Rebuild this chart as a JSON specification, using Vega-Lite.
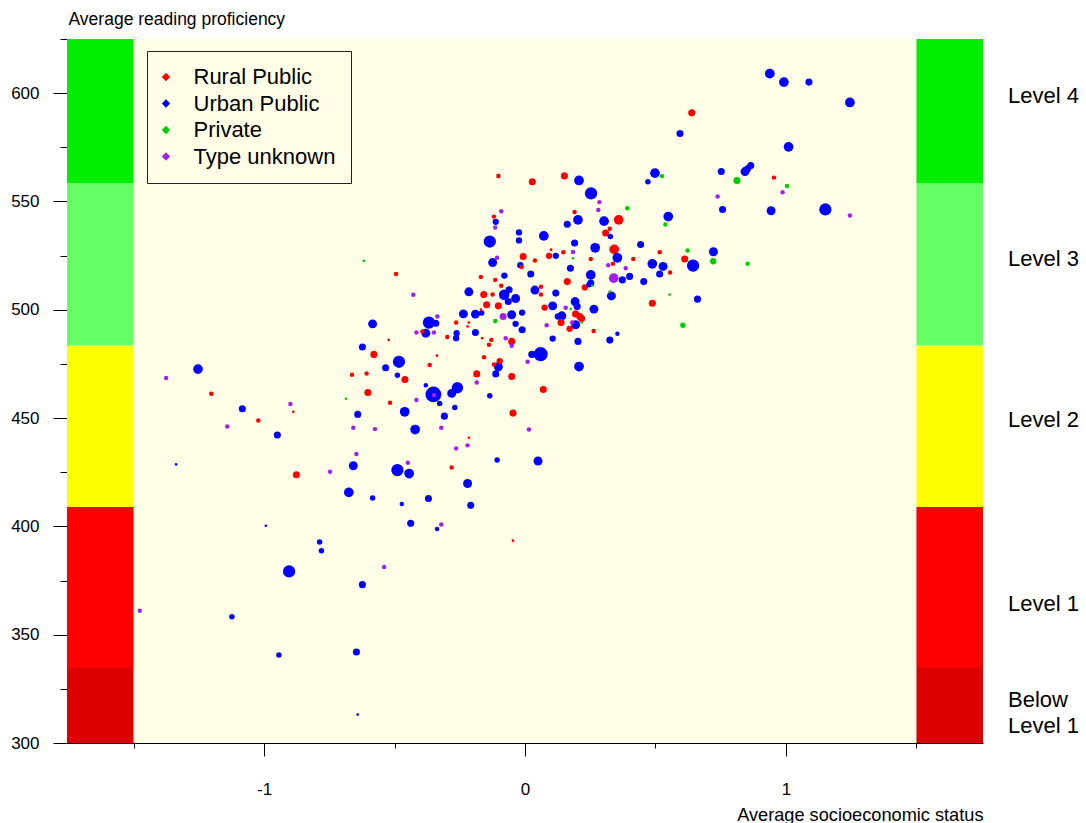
{
"$schema": "https://vega.github.io/schema/vega-lite/v6.json",
"width": 916, "height": 704,
"autosize": {"type": "none"},
"padding": {"left": 67, "top": 39, "right": 103, "bottom": 80},
"background": "#ffffff",
"config": {"view": {"stroke": null}, "font": "Liberation Sans",
  "axis": {"domainColor": "#000", "tickColor": "#000", "labelColor": "#000", "titleColor": "#000", "grid": false, "labelFont": "Liberation Sans", "titleFont": "Liberation Sans", "titleFontWeight": "normal", "domainWidth": 1, "tickWidth": 1}},
"datasets": {
 "bands": [
  {"level": "Below Level 1", "lo": 300, "hi": 334.6},
  {"level": "Level 1", "lo": 334.6, "hi": 408.9},
  {"level": "Level 2", "lo": 408.9, "hi": 483.5},
  {"level": "Level 3", "lo": 483.5, "hi": 558.5},
  {"level": "Level 4", "lo": 558.5, "hi": 625}
 ],
 "levels": [
  {"label": "Level 4", "at": 598.6},
  {"label": "Level 3", "at": 523.5},
  {"label": "Level 2", "at": 449.2},
  {"label": "Level 1", "at": 364},
  {"label": ["Below", "Level 1"], "at": 320}
 ],
 "schools": [
{"ses":-0.102,"score":561.8,"type":"Rural Public","n":20},
{"ses":0.028,"score":559.1,"type":"Rural Public","n":50},
{"ses":-0.091,"score":545.5,"type":"Type unknown","n":20},
{"ses":-0.119,"score":543.0,"type":"Rural Public","n":20},
{"ses":-0.112,"score":540.6,"type":"Urban Public","n":40},
{"ses":-0.114,"score":538.0,"type":"Type unknown","n":20},
{"ses":-0.023,"score":535.7,"type":"Urban Public","n":40},
{"ses":-0.023,"score":532.0,"type":"Urban Public","n":40},
{"ses":0.072,"score":534.1,"type":"Urban Public","n":95},
{"ses":-0.135,"score":531.5,"type":"Urban Public","n":150},
{"ses":-0.107,"score":524.0,"type":"Type unknown","n":20},
{"ses":-0.124,"score":521.8,"type":"Urban Public","n":80},
{"ses":-0.007,"score":524.6,"type":"Rural Public","n":50},
{"ses":0.038,"score":522.7,"type":"Rural Public","n":20},
{"ses":0.100,"score":527.7,"type":"Rural Public","n":8},
{"ses":0.092,"score":524.9,"type":"Rural Public","n":40},
{"ses":0.118,"score":524.9,"type":"Urban Public","n":40},
{"ses":-0.018,"score":520.6,"type":"Urban Public","n":40},
{"ses":-0.013,"score":519.7,"type":"Rural Public","n":20},
{"ses":-0.494,"score":516.5,"type":"Rural Public","n":20},
{"ses":0.022,"score":516.5,"type":"Urban Public","n":50},
{"ses":-0.079,"score":515.8,"type":"Urban Public","n":40},
{"ses":-0.169,"score":515.1,"type":"Rural Public","n":20},
{"ses":-0.114,"score":513.8,"type":"Rural Public","n":20},
{"ses":-0.091,"score":511.1,"type":"Rural Public","n":20},
{"ses":-0.428,"score":506.9,"type":"Type unknown","n":20},
{"ses":-0.215,"score":508.3,"type":"Urban Public","n":80},
{"ses":-0.158,"score":507.0,"type":"Rural Public","n":50},
{"ses":-0.124,"score":507.0,"type":"Rural Public","n":20},
{"ses":-0.080,"score":506.9,"type":"Urban Public","n":110},
{"ses":-0.061,"score":509.2,"type":"Urban Public","n":50},
{"ses":-0.036,"score":505.2,"type":"Urban Public","n":80},
{"ses":-0.064,"score":503.8,"type":"Urban Public","n":50},
{"ses":0.038,"score":509.1,"type":"Urban Public","n":80},
{"ses":0.061,"score":510.6,"type":"Rural Public","n":20},
{"ses":0.061,"score":507.0,"type":"Rural Public","n":20},
{"ses":0.118,"score":507.7,"type":"Urban Public","n":50},
{"ses":-0.147,"score":502.3,"type":"Rural Public","n":50},
{"ses":-0.102,"score":501.8,"type":"Rural Public","n":50},
{"ses":0.106,"score":501.8,"type":"Urban Public","n":80},
{"ses":0.075,"score":501.0,"type":"Rural Public","n":40},
{"ses":-0.169,"score":500.1,"type":"Rural Public","n":7},
{"ses":-0.011,"score":498.7,"type":"Urban Public","n":40},
{"ses":-0.236,"score":498.1,"type":"Urban Public","n":80},
{"ses":-0.190,"score":498.0,"type":"Urban Public","n":80},
{"ses":-0.166,"score":498.5,"type":"Urban Public","n":30},
{"ses":-0.084,"score":496.9,"type":"Type unknown","n":50},
{"ses":-0.051,"score":497.7,"type":"Urban Public","n":80},
{"ses":0.126,"score":496.9,"type":"Urban Public","n":40},
{"ses":-0.336,"score":496.9,"type":"Type unknown","n":20},
{"ses":-0.368,"score":494.1,"type":"Urban Public","n":150},
{"ses":-0.342,"score":493.8,"type":"Urban Public","n":50},
{"ses":-0.114,"score":494.8,"type":"Private","n":20},
{"ses":-0.264,"score":494.1,"type":"Rural Public","n":20},
{"ses":-0.215,"score":494.1,"type":"Rural Public","n":7},
{"ses":-0.220,"score":492.3,"type":"Rural Public","n":7},
{"ses":-0.036,"score":493.5,"type":"Urban Public","n":40},
{"ses":0.083,"score":492.9,"type":"Type unknown","n":20},
{"ses":0.138,"score":494.1,"type":"Rural Public","n":50},
{"ses":-0.011,"score":490.8,"type":"Urban Public","n":50},
{"ses":-0.416,"score":489.5,"type":"Type unknown","n":20},
{"ses":-0.393,"score":490.0,"type":"Rural Public","n":20},
{"ses":-0.380,"score":489.2,"type":"Urban Public","n":80},
{"ses":-0.349,"score":489.5,"type":"Type unknown","n":20},
{"ses":-0.190,"score":489.5,"type":"Urban Public","n":50},
{"ses":-0.262,"score":489.2,"type":"Urban Public","n":40},
{"ses":-0.264,"score":486.9,"type":"Urban Public","n":40},
{"ses":-0.298,"score":487.4,"type":"Rural Public","n":20},
{"ses":-0.164,"score":486.9,"type":"Rural Public","n":7},
{"ses":-0.522,"score":486.1,"type":"Rural Public","n":7},
{"ses":-0.074,"score":486.9,"type":"Type unknown","n":20},
{"ses":-0.051,"score":485.4,"type":"Rural Public","n":50},
{"ses":-0.051,"score":483.4,"type":"Type unknown","n":20},
{"ses":-0.129,"score":486.1,"type":"Rural Public","n":20},
{"ses":-0.138,"score":483.8,"type":"Rural Public","n":20},
{"ses":0.106,"score":486.7,"type":"Urban Public","n":40},
{"ses":-0.337,"score":478.8,"type":"Rural Public","n":7},
{"ses":-0.157,"score":478.1,"type":"Rural Public","n":20},
{"ses":0.060,"score":479.5,"type":"Urban Public","n":200},
{"ses":0.026,"score":479.4,"type":"Urban Public","n":50},
{"ses":0.151,"score":561.8,"type":"Rural Public","n":50},
{"ses":0.207,"score":559.7,"type":"Urban Public","n":95},
{"ses":0.253,"score":553.7,"type":"Urban Public","n":150},
{"ses":0.498,"score":563.1,"type":"Urban Public","n":95},
{"ses":0.525,"score":561.7,"type":"Private","n":20},
{"ses":0.471,"score":559.1,"type":"Urban Public","n":30},
{"ses":0.285,"score":549.7,"type":"Type unknown","n":20},
{"ses":0.281,"score":546.1,"type":"Type unknown","n":20},
{"ses":0.392,"score":546.9,"type":"Private","n":20},
{"ses":0.190,"score":545.1,"type":"Rural Public","n":20},
{"ses":0.203,"score":541.5,"type":"Urban Public","n":95},
{"ses":0.162,"score":539.5,"type":"Urban Public","n":50},
{"ses":0.303,"score":540.9,"type":"Urban Public","n":95},
{"ses":0.359,"score":541.5,"type":"Rural Public","n":95},
{"ses":0.309,"score":535.4,"type":"Rural Public","n":50},
{"ses":0.325,"score":537.4,"type":"Rural Public","n":20},
{"ses":0.327,"score":533.8,"type":"Urban Public","n":30},
{"ses":0.549,"score":543.0,"type":"Urban Public","n":95},
{"ses":0.538,"score":539.4,"type":"Private","n":20},
{"ses":0.738,"score":552.3,"type":"Type unknown","n":20},
{"ses":0.190,"score":530.8,"type":"Urban Public","n":50},
{"ses":0.269,"score":528.6,"type":"Urban Public","n":95},
{"ses":0.342,"score":527.9,"type":"Rural Public","n":95},
{"ses":0.354,"score":524.0,"type":"Urban Public","n":95},
{"ses":0.443,"score":530.1,"type":"Urban Public","n":50},
{"ses":0.147,"score":526.6,"type":"Rural Public","n":20},
{"ses":0.184,"score":526.7,"type":"Type unknown","n":20},
{"ses":0.184,"score":523.8,"type":"Private","n":7},
{"ses":0.252,"score":523.4,"type":"Rural Public","n":20},
{"ses":0.415,"score":523.4,"type":"Rural Public","n":20},
{"ses":0.516,"score":526.6,"type":"Rural Public","n":20},
{"ses":0.623,"score":527.4,"type":"Private","n":20},
{"ses":0.722,"score":526.8,"type":"Urban Public","n":80},
{"ses":0.612,"score":523.4,"type":"Rural Public","n":50},
{"ses":0.644,"score":520.4,"type":"Urban Public","n":150},
{"ses":0.721,"score":522.4,"type":"Private","n":40},
{"ses":0.488,"score":521.2,"type":"Urban Public","n":95},
{"ses":0.529,"score":520.0,"type":"Urban Public","n":80},
{"ses":0.516,"score":516.5,"type":"Urban Public","n":50},
{"ses":0.556,"score":517.2,"type":"Rural Public","n":20},
{"ses":0.174,"score":519.2,"type":"Urban Public","n":50},
{"ses":0.252,"score":516.1,"type":"Urban Public","n":95},
{"ses":0.252,"score":512.3,"type":"Urban Public","n":50},
{"ses":0.319,"score":520.6,"type":"Type unknown","n":20},
{"ses":0.337,"score":521.2,"type":"Rural Public","n":20},
{"ses":0.386,"score":519.2,"type":"Type unknown","n":20},
{"ses":0.340,"score":514.6,"type":"Type unknown","n":95},
{"ses":0.373,"score":513.8,"type":"Urban Public","n":50},
{"ses":0.401,"score":515.4,"type":"Urban Public","n":50},
{"ses":0.455,"score":513.0,"type":"Urban Public","n":50},
{"ses":0.162,"score":513.0,"type":"Rural Public","n":50},
{"ses":0.229,"score":510.3,"type":"Rural Public","n":40},
{"ses":0.245,"score":511.5,"type":"Urban Public","n":30},
{"ses":0.258,"score":511.1,"type":"Private","n":7},
{"ses":0.554,"score":507.0,"type":"Private","n":7},
{"ses":0.331,"score":506.4,"type":"Urban Public","n":80},
{"ses":0.325,"score":508.4,"type":"Private","n":7},
{"ses":0.661,"score":504.9,"type":"Urban Public","n":50},
{"ses":0.488,"score":503.0,"type":"Rural Public","n":50},
{"ses":0.192,"score":503.8,"type":"Urban Public","n":80},
{"ses":0.200,"score":501.5,"type":"Urban Public","n":50},
{"ses":0.156,"score":500.9,"type":"Type unknown","n":20},
{"ses":0.175,"score":500.3,"type":"Private","n":7},
{"ses":0.264,"score":500.3,"type":"Urban Public","n":80},
{"ses":0.141,"score":497.2,"type":"Urban Public","n":80},
{"ses":0.194,"score":498.1,"type":"Rural Public","n":50},
{"ses":0.210,"score":496.9,"type":"Rural Public","n":50},
{"ses":0.217,"score":496.0,"type":"Rural Public","n":50},
{"ses":0.194,"score":493.1,"type":"Urban Public","n":80},
{"ses":0.181,"score":494.1,"type":"Type unknown","n":20},
{"ses":0.217,"score":494.1,"type":"Private","n":7},
{"ses":0.171,"score":491.2,"type":"Rural Public","n":40},
{"ses":0.605,"score":492.9,"type":"Private","n":30},
{"ses":0.263,"score":490.2,"type":"Rural Public","n":20},
{"ses":0.354,"score":488.9,"type":"Urban Public","n":20},
{"ses":0.203,"score":485.4,"type":"Urban Public","n":50},
{"ses":0.325,"score":486.0,"type":"Urban Public","n":50},
{"ses":-0.483,"score":476.0,"type":"Urban Public","n":150},
{"ses":-0.534,"score":473.2,"type":"Urban Public","n":50},
{"ses":-0.365,"score":474.5,"type":"Rural Public","n":20},
{"ses":-0.097,"score":476.3,"type":"Rural Public","n":40},
{"ses":-0.119,"score":474.7,"type":"Rural Public","n":20},
{"ses":-0.102,"score":473.7,"type":"Urban Public","n":80},
{"ses":0.010,"score":476.0,"type":"Type unknown","n":20},
{"ses":0.207,"score":473.8,"type":"Urban Public","n":95},
{"ses":-0.489,"score":469.8,"type":"Urban Public","n":30},
{"ses":-0.460,"score":467.8,"type":"Rural Public","n":50},
{"ses":-0.185,"score":470.4,"type":"Rural Public","n":50},
{"ses":-0.112,"score":470.4,"type":"Urban Public","n":50},
{"ses":-0.051,"score":469.2,"type":"Rural Public","n":50},
{"ses":-0.185,"score":466.4,"type":"Type unknown","n":20},
{"ses":-0.351,"score":460.9,"type":"Urban Public","n":250},
{"ses":-0.349,"score":460.6,"type":"Type unknown","n":20},
{"ses":-0.380,"score":465.2,"type":"Urban Public","n":20},
{"ses":-0.259,"score":464.0,"type":"Urban Public","n":130},
{"ses":-0.281,"score":461.4,"type":"Urban Public","n":80},
{"ses":-0.327,"score":456.7,"type":"Urban Public","n":30},
{"ses":0.070,"score":463.2,"type":"Rural Public","n":50},
{"ses":-0.135,"score":460.3,"type":"Urban Public","n":30},
{"ses":-0.517,"score":457.1,"type":"Rural Public","n":20},
{"ses":-0.416,"score":458.3,"type":"Type unknown","n":20},
{"ses":-0.461,"score":452.9,"type":"Urban Public","n":95},
{"ses":-0.309,"score":450.9,"type":"Urban Public","n":50},
{"ses":-0.269,"score":454.9,"type":"Urban Public","n":30},
{"ses":-0.046,"score":452.3,"type":"Rural Public","n":50},
{"ses":-0.421,"score":444.7,"type":"Urban Public","n":95},
{"ses":-0.321,"score":445.5,"type":"Type unknown","n":20},
{"ses":0.015,"score":444.7,"type":"Type unknown","n":20},
{"ses":-0.215,"score":440.9,"type":"Rural Public","n":7},
{"ses":-0.220,"score":437.4,"type":"Type unknown","n":20},
{"ses":-0.264,"score":436.0,"type":"Type unknown","n":20},
{"ses":-0.449,"score":429.4,"type":"Type unknown","n":20},
{"ses":-0.489,"score":426.0,"type":"Urban Public","n":150},
{"ses":-0.444,"score":424.4,"type":"Urban Public","n":95},
{"ses":-0.107,"score":430.6,"type":"Urban Public","n":30},
{"ses":0.050,"score":430.2,"type":"Urban Public","n":80},
{"ses":-0.281,"score":427.2,"type":"Rural Public","n":20},
{"ses":-0.220,"score":419.8,"type":"Urban Public","n":80},
{"ses":-0.370,"score":412.9,"type":"Urban Public","n":50},
{"ses":-0.472,"score":410.3,"type":"Urban Public","n":20},
{"ses":-0.208,"score":409.7,"type":"Urban Public","n":50},
{"ses":-0.438,"score":401.4,"type":"Urban Public","n":50},
{"ses":-0.321,"score":400.9,"type":"Type unknown","n":20},
{"ses":-0.337,"score":398.8,"type":"Urban Public","n":20},
{"ses":-0.046,"score":393.4,"type":"Rural Public","n":7},
{"ses":-0.623,"score":482.8,"type":"Urban Public","n":50},
{"ses":-0.579,"score":479.4,"type":"Rural Public","n":50},
{"ses":-1.253,"score":472.6,"type":"Urban Public","n":95},
{"ses":-1.375,"score":468.5,"type":"Type unknown","n":20},
{"ses":-0.663,"score":470.0,"type":"Rural Public","n":20},
{"ses":-0.607,"score":470.6,"type":"Rural Public","n":20},
{"ses":-1.202,"score":461.2,"type":"Rural Public","n":20},
{"ses":-0.602,"score":461.8,"type":"Rural Public","n":50},
{"ses":-0.686,"score":458.9,"type":"Private","n":7},
{"ses":-1.083,"score":454.3,"type":"Urban Public","n":50},
{"ses":-0.899,"score":456.5,"type":"Type unknown","n":20},
{"ses":-0.888,"score":452.9,"type":"Rural Public","n":7},
{"ses":-1.022,"score":448.9,"type":"Rural Public","n":20},
{"ses":-0.641,"score":451.7,"type":"Urban Public","n":50},
{"ses":-1.141,"score":446.1,"type":"Type unknown","n":20},
{"ses":-0.658,"score":445.5,"type":"Type unknown","n":20},
{"ses":-0.575,"score":444.9,"type":"Type unknown","n":20},
{"ses":-0.949,"score":442.2,"type":"Urban Public","n":50},
{"ses":-1.337,"score":428.6,"type":"Urban Public","n":7},
{"ses":-0.646,"score":433.4,"type":"Type unknown","n":20},
{"ses":-0.658,"score":428.0,"type":"Urban Public","n":80},
{"ses":-0.876,"score":423.8,"type":"Rural Public","n":50},
{"ses":-0.747,"score":425.2,"type":"Type unknown","n":20},
{"ses":-0.675,"score":415.7,"type":"Urban Public","n":95},
{"ses":-0.584,"score":413.1,"type":"Urban Public","n":30},
{"ses":-0.993,"score":400.3,"type":"Urban Public","n":7},
{"ses":-0.618,"score":522.6,"type":"Private","n":7},
{"ses":-0.584,"score":493.5,"type":"Urban Public","n":80},
{"ses":-0.787,"score":392.8,"type":"Urban Public","n":30},
{"ses":-0.780,"score":388.8,"type":"Urban Public","n":30},
{"ses":-0.904,"score":379.2,"type":"Urban Public","n":150},
{"ses":-0.540,"score":381.2,"type":"Type unknown","n":20},
{"ses":-0.623,"score":373.1,"type":"Urban Public","n":50},
{"ses":-1.476,"score":361.1,"type":"Type unknown","n":20},
{"ses":-1.123,"score":358.3,"type":"Urban Public","n":30},
{"ses":-0.943,"score":340.6,"type":"Urban Public","n":30},
{"ses":-0.646,"score":342.0,"type":"Urban Public","n":50},
{"ses":-0.641,"score":313.1,"type":"Urban Public","n":7},
{"ses":0.938,"score":609.0,"type":"Urban Public","n":95},
{"ses":0.992,"score":605.1,"type":"Urban Public","n":95},
{"ses":1.088,"score":605.1,"type":"Urban Public","n":50},
{"ses":1.245,"score":595.7,"type":"Urban Public","n":95},
{"ses":0.639,"score":590.9,"type":"Rural Public","n":50},
{"ses":0.594,"score":581.4,"type":"Urban Public","n":50},
{"ses":1.010,"score":575.2,"type":"Urban Public","n":95},
{"ses":0.752,"score":563.8,"type":"Urban Public","n":50},
{"ses":0.843,"score":563.8,"type":"Urban Public","n":80},
{"ses":0.865,"score":566.6,"type":"Urban Public","n":50},
{"ses":0.853,"score":565.1,"type":"Urban Public","n":50},
{"ses":0.812,"score":559.7,"type":"Private","n":50},
{"ses":0.954,"score":561.0,"type":"Rural Public","n":20},
{"ses":1.004,"score":557.1,"type":"Private","n":20},
{"ses":0.987,"score":554.3,"type":"Type unknown","n":20},
{"ses":0.757,"score":546.3,"type":"Urban Public","n":50},
{"ses":0.943,"score":545.7,"type":"Urban Public","n":80},
{"ses":1.151,"score":546.3,"type":"Urban Public","n":150},
{"ses":1.245,"score":543.5,"type":"Type unknown","n":20},
{"ses":0.853,"score":521.2,"type":"Private","n":20}
 ]
},
"resolve": {"axis": {"x": "independent", "y": "independent"}},
"layer": [
 {"data": {"values": [{}]},
  "mark": {"type": "rect", "fill": "#FFFEE6"},
  "encoding": {
   "x": {"datum": -1.5, "type": "quantitative", "scale": {"domain": [-1.755, 1.755], "nice": false, "zero": false}, "axis": null},
   "x2": {"datum": 1.5},
   "y": {"datum": 300, "type": "quantitative", "scale": {"domain": [300, 625], "nice": false, "zero": false}, "axis": null},
   "y2": {"datum": 625}
  }},
 {"data": {"name": "bands"},
  "mark": {"type": "rect"},
  "encoding": {
   "x": {"datum": -1.755, "type": "quantitative", "axis": null},
   "x2": {"datum": -1.5},
   "y": {"field": "lo", "type": "quantitative", "axis": null},
   "y2": {"field": "hi"},
   "fill": {"field": "level", "type": "nominal", "scale": {"domain": ["Below Level 1", "Level 1", "Level 2", "Level 3", "Level 4"], "range": ["#DC0000", "#FF0000", "#FFFF00", "#66FF66", "#00EE00"]}, "legend": null}
  }},
 {"data": {"name": "bands"},
  "mark": {"type": "rect"},
  "encoding": {
   "x": {"datum": 1.5, "type": "quantitative", "axis": null},
   "x2": {"datum": 1.755},
   "y": {"field": "lo", "type": "quantitative", "axis": null},
   "y2": {"field": "hi"},
   "fill": {"field": "level", "type": "nominal", "legend": null}
  }},
 {"data": {"name": "schools"},
  "mark": {"type": "point", "filled": true, "shape": "circle", "opacity": 1, "strokeWidth": 0},
  "encoding": {
   "x": {"field": "ses", "type": "quantitative", "scale": {"domain": [-1.755, 1.755], "nice": false, "zero": false},
     "axis": {"values": [-1.5, -1, -0.5, 0, 0.5, 1, 1.5], "labelExpr": "datum.value % 1 === 0 ? toString(datum.value) : ''",
       "tickSize": {"condition": {"test": "datum.value % 1 === 0", "value": 13}, "value": 5},
       "labelPadding": 33, "labelBaseline": "middle", "labelFontSize": 17, "labelFlush": false, "labelOverlap": false,
       "title": "Average socioeconomic status", "titleFontSize": 18.2, "titleX": 916, "titleY": 72, "titleAlign": "right", "titleAnchor": null, "titleBaseline": "middle", "titleLimit": 500}},
   "y": {"field": "score", "type": "quantitative", "scale": {"domain": [300, 625], "nice": false, "zero": false},
     "axis": {"values": [300, 325, 350, 375, 400, 425, 450, 475, 500, 525, 550, 575, 600, 625], "labelExpr": "datum.value % 50 === 0 ? toString(datum.value) : ''",
       "tickSize": {"condition": {"test": "datum.value % 50 === 0", "value": 14}, "value": 7},
       "labelPadding": 14, "labelFontSize": 17, "labelFlush": false, "labelOverlap": false,
       "title": "Average reading proficiency", "titleFontSize": 17.5, "titleAngle": 0, "titleX": 1, "titleY": -20, "titleAlign": "left", "titleAnchor": null, "titleBaseline": "middle", "titleLimit": 500}},
   "color": {"field": "type", "type": "nominal",
     "scale": {"domain": ["Rural Public", "Urban Public", "Private", "Type unknown"], "range": ["#FF0000", "#0000FF", "#00CD00", "#A020F0"]},
     "legend": {"title": null, "orient": "none", "legendX": 80, "legendY": 12, "fillColor": "#FFFEE6", "strokeColor": "#222222", "padding": 15, "labelFontSize": 22, "labelFont": "Liberation Sans", "labelColor": "#000", "symbolType": "diamond", "symbolSize": 70, "symbolOffset": -7, "rowPadding": 4.5, "labelOffset": 16.5, "labelLimit": 400, "symbolStrokeWidth": 0, "symbolOpacity": 1}},
   "size": {"field": "n", "type": "quantitative", "scale": {"type": "linear", "domain": [0, 250], "range": [0, 250]}, "legend": null},
   "order": {"field": "n", "sort": "descending"}
  }},
 {"data": {"name": "levels"},
  "mark": {"type": "text", "align": "left", "baseline": "middle", "fontSize": 22, "font": "Liberation Sans", "color": "#000", "lineHeight": 26},
  "encoding": {
   "x": {"datum": 1.851, "type": "quantitative", "axis": null},
   "y": {"field": "at", "type": "quantitative", "axis": null},
   "text": {"field": "label"}
  }}
]
}
